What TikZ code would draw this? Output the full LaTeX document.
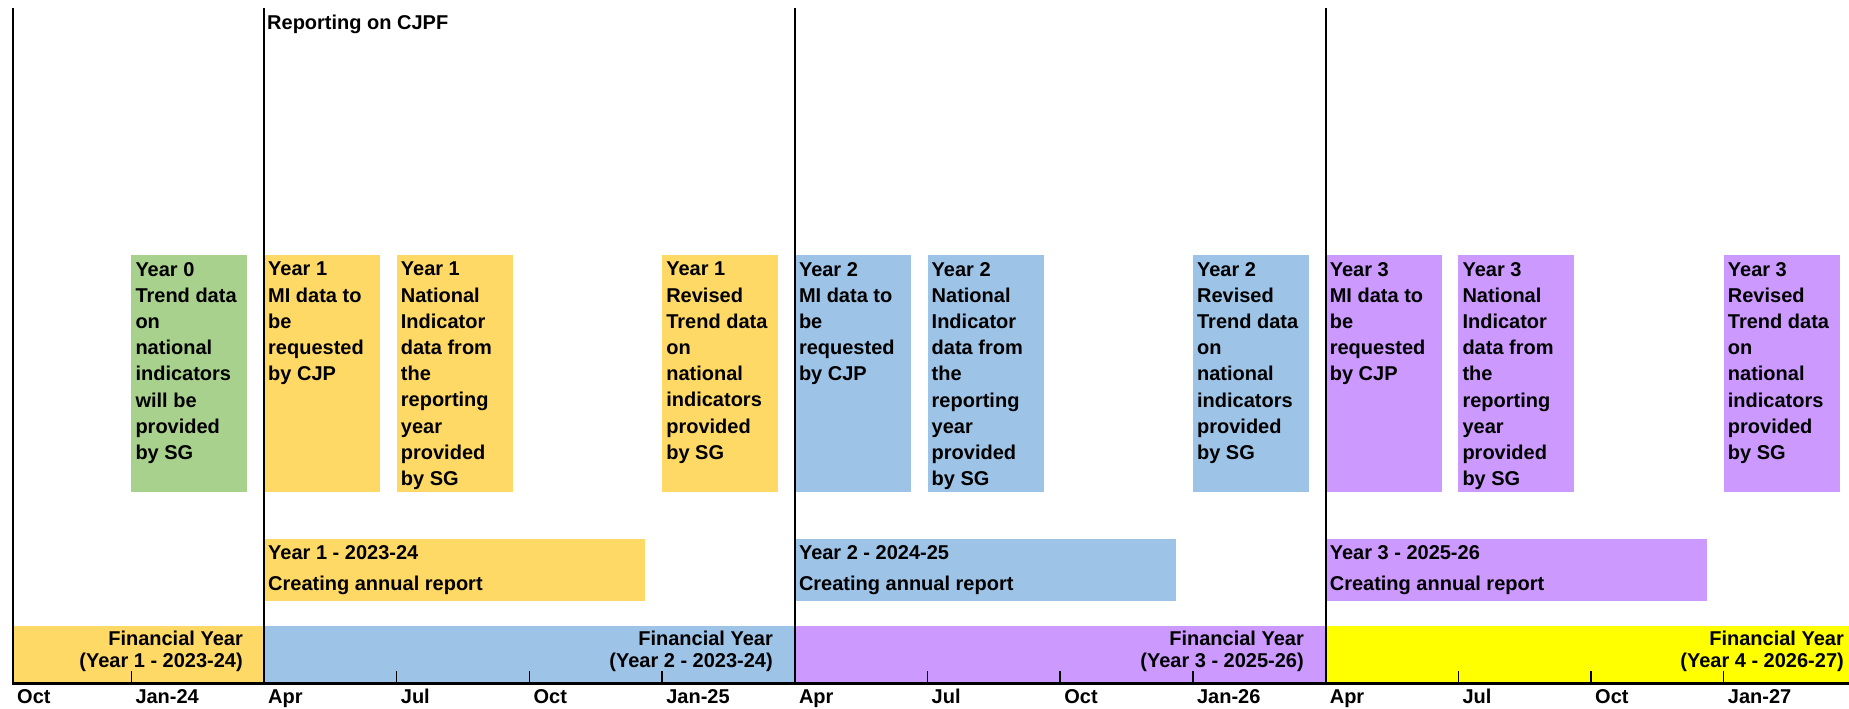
\documentclass[tikz,border=0pt]{standalone}
\usepackage{fontspec}
\setmainfont{Liberation Sans}
\definecolor{gold}{HTML}{FFD966}
\definecolor{sky}{HTML}{9DC3E6}
\definecolor{leaf}{HTML}{A9D18E}
\definecolor{lilac}{HTML}{CC99FF}
\definecolor{brightyellow}{HTML}{FFFF00}
\tikzset{
  upbar/.style={draw=none, minimum width=116pt, minimum height=237pt, anchor=north west, inner sep=0pt, outer sep=0pt},
  reportbar/.style={draw=none, minimum width=381pt, minimum height=62pt, anchor=north west, inner sep=0pt, outer sep=0pt},
  fyband/.style={draw=none, minimum height=57pt, anchor=north west, inner sep=0pt, outer sep=0pt},
  boxtxt/.style={font=\fontsize{20}{26.2}\selectfont\bfseries, align=left, anchor=north west, inner sep=0pt},
  reptxt/.style={font=\fontsize{20}{31}\selectfont\bfseries, align=left, anchor=north west, inner sep=0pt},
  fytxt/.style={font=\fontsize{20}{22}\selectfont\bfseries, align=right, anchor=north east, inner sep=0pt},
  ticktxt/.style={font=\fontsize{20}{24}\selectfont\bfseries, anchor=base west, inner sep=0pt},
  vline/.style={line width=2pt, black},
  axisline/.style={line width=3pt, black},
  tickmark/.style={line width=1.5pt, black}
}
\newcommand\upbox[4]{%
  \node[upbar, fill=#3] (#1) at (#2,255) {};
  \node[boxtxt] (#1t) at ([xshift=4pt, yshift=-7pt]#1.north west) {#4};
}
\newcommand\repbox[4]{%
  \node[reportbar, fill=#3] (#1) at (#2,539) {};
  \node[reptxt] (#1t) at ([xshift=4pt, yshift=-6pt]#1.north west) {#4};
}
\begin{document}
\begin{tikzpicture}[x=1pt,y=-1pt]
\useasboundingbox (0,0) rectangle (1849,709);
\fill[white] (0,0) rectangle (1849,709);

% financial year band
\node[fyband, fill=gold, minimum width=252pt] (fyA) at (12,626) {};
\node[fyband, fill=sky, minimum width=531pt] (fyB) at (264,626) {};
\node[fyband, fill=lilac, minimum width=531pt] (fyC) at (795,626) {};
\node[fyband, fill=brightyellow, minimum width=524pt] (fyD) at (1325,626) {};

% upper boxes
\upbox{g0}{131.3}{leaf}{Year 0\\Trend data\\on\\national\\indicators\\will be\\provided\\by SG}
\upbox{a1}{264}{gold}{Year 1\\MI data to\\be\\requested\\by CJP}
\upbox{b1}{396.7}{gold}{Year 1\\National\\Indicator\\data from\\the\\reporting\\year\\provided\\by SG}
\upbox{c1}{662.1}{gold}{Year 1\\Revised\\Trend data\\on\\national\\indicators\\provided\\by SG}
\upbox{a2}{794.8}{sky}{Year 2\\MI data to\\be\\requested\\by CJP}
\upbox{b2}{927.5}{sky}{Year 2\\National\\Indicator\\data from\\the\\reporting\\year\\provided\\by SG}
\upbox{c2}{1192.9}{sky}{Year 2\\Revised\\Trend data\\on\\national\\indicators\\provided\\by SG}
\upbox{a3}{1325.6}{lilac}{Year 3\\MI data to\\be\\requested\\by CJP}
\upbox{b3}{1458.3}{lilac}{Year 3\\National\\Indicator\\data from\\the\\reporting\\year\\provided\\by SG}
\upbox{c3}{1723.7}{lilac}{Year 3\\Revised\\Trend data\\on\\national\\indicators\\provided\\by SG}

% annual report boxes
\repbox{r1}{264}{gold}{Year 1 - 2023-24\\Creating annual report}
\repbox{r2}{794.8}{sky}{Year 2 - 2024-25\\Creating annual report}
\repbox{r3}{1325.6}{lilac}{Year 3 - 2025-26\\Creating annual report}

% vertical lines
\draw[vline] (13,8) -- (13,683);
\draw[vline] (264,8) -- (264,683);
\draw[vline] (795,8) -- (795,683);
\draw[vline] (1325.6,8) -- (1325.6,683);

% axis and ticks
\draw[axisline] (12,683) -- (1849,683);
\foreach \t in {131.3,396.7,529.4,662.1,927.5,1060.2,1192.9,1458.3,1591.0,1723.7}
  \draw[tickmark] (\t,671) -- (\t,683);

% title
\node[font=\fontsize{20}{24}\selectfont\bfseries, anchor=base west, inner sep=0pt] (title) at (267,30) {Reporting on CJPF};

% financial year texts
\node[fytxt] (fyAt) at (243,631) {Financial Year\\(Year 1 - 2023-24)};
\node[fytxt] (fyBt) at (773,631) {Financial Year\\(Year 2 - 2023-24)};
\node[fytxt] (fyCt) at (1304,631) {Financial Year\\(Year 3 - 2025-26)};
\node[fytxt] (fyDt) at (1844,631) {Financial Year\\(Year 4 - 2026-27)};

% tick labels
\node[ticktxt] (l0) at (17,703) {Oct};
\node[ticktxt] (l1) at (135.3,703) {Jan-24};
\node[ticktxt] (l2) at (268,703) {Apr};
\node[ticktxt] (l3) at (400.7,703) {Jul};
\node[ticktxt] (l4) at (533.4,703) {Oct};
\node[ticktxt] (l5) at (666.1,703) {Jan-25};
\node[ticktxt] (l6) at (798.8,703) {Apr};
\node[ticktxt] (l7) at (931.5,703) {Jul};
\node[ticktxt] (l8) at (1064.2,703) {Oct};
\node[ticktxt] (l9) at (1196.9,703) {Jan-26};
\node[ticktxt] (l10) at (1329.6,703) {Apr};
\node[ticktxt] (l11) at (1462.3,703) {Jul};
\node[ticktxt] (l12) at (1595.0,703) {Oct};
\node[ticktxt] (l13) at (1727.7,703) {Jan-27};
\end{tikzpicture}
\end{document}
